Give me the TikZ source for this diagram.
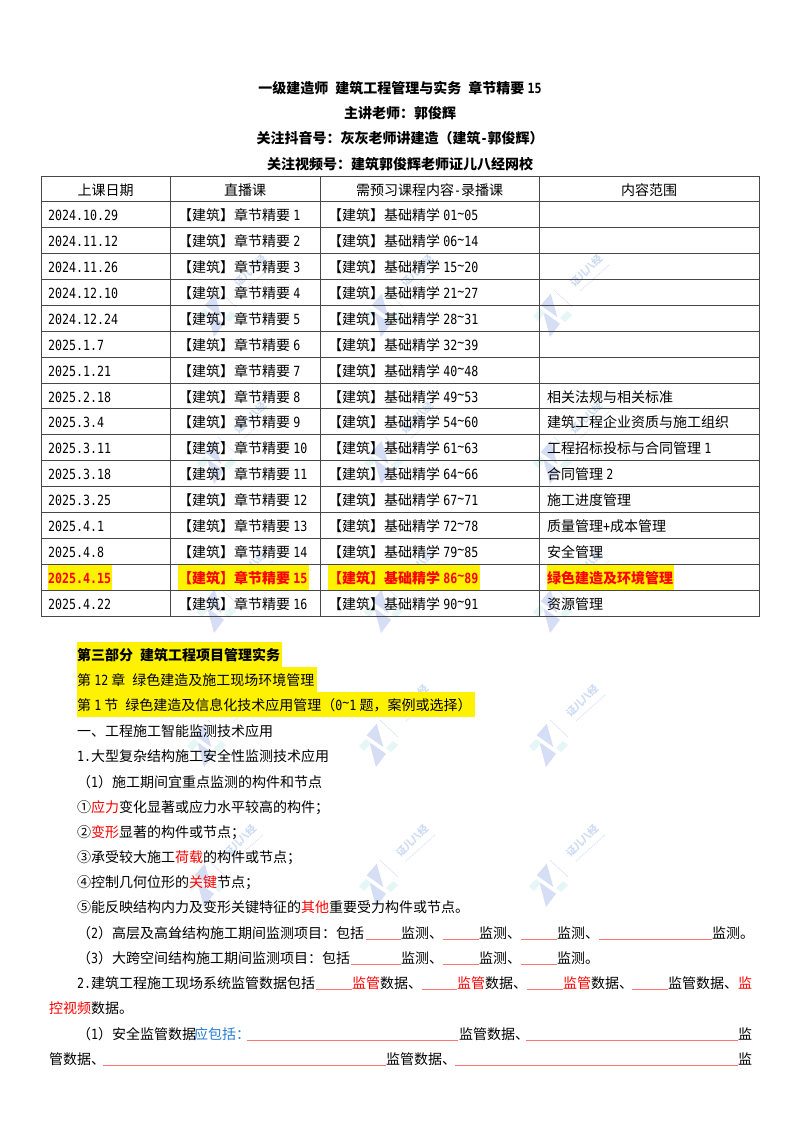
\documentclass[tikz,border=0pt]{standalone}
\usepackage{fontspec}
\setmainfont{Noto Sans CJK SC}
\newfontfamily\latfont[FakeStretch=0.83,Scale=1.0]{DejaVu Sans Mono}
\newcommand{\lat}[1]{{\latfont #1}}
\newcommand{\tld}{\raisebox{2.5pt}{\textasciitilde}}
\newcommand{\bodyfont}{\fontsize{14pt}{16pt}\selectfont}
\definecolor{hotred}{RGB}{255,0,0}
\definecolor{askblue}{RGB}{40,125,210}
\definecolor{markblue}{RGB}{214,222,246}
\definecolor{markcyan}{RGB}{228,246,245}
\definecolor{marktext}{RGB}{205,220,243}
\tikzset{
  mark logo/.pic={
    \fill[markblue] (-0.3,-21.3) -- (-10.3,-9.7) -- (6.3,2) -- cycle;
    \fill[markblue] (-7.7,-3) -- (9,8.7) -- (-1,22) -- cycle;
    \fill[markcyan] (-18,1) -- (-11,-6) -- (-6,-2) -- (-13,6) -- cycle;
    \fill[markcyan] (9,3) -- (16,-4) -- (21,0) -- (14,7) -- cycle;
    \draw[marktext, line width=0.4pt] (3,-25) -- (21,-8);
    \node[marktext, rotate=45, inner sep=0, anchor=center, font=\fontsize{10pt}{10pt}\selectfont\bfseries] at (35,-44) {证儿八经};
    \draw[marktext!70, line width=1.2pt, dash pattern=on 1pt off 1pt] (29,-24) -- (58,-50);
  },
  table rule/.style={draw=black!72, line width=0.9pt},
  blank rule/.style={draw=hotred!55, line width=1pt},
  mark band/.style={fill=yellow},
  hot cell/.style={text=hotred, font=\bodyfont\bfseries}
}
\begin{document}
\begin{tikzpicture}[x=1pt, y=-1pt, font=\bodyfont]
  \useasboundingbox[fill=white] (0,0) rectangle (800,1132);

  % watermark
  \pic at (215,315) {mark logo};
  \pic at (382,315) {mark logo};
  \pic at (551,315) {mark logo};
  \pic at (215,462) {mark logo};
  \pic at (382,462) {mark logo};
  \pic at (551,462) {mark logo};
  \pic at (215,611) {mark logo};
  \pic at (382,611) {mark logo};
  \pic at (551,611) {mark logo};
  \pic at (205,745) {mark logo};
  \pic at (377,745) {mark logo};
  \pic at (547,745) {mark logo};
  \pic at (205,885) {mark logo};
  \pic at (377,885) {mark logo};
  \pic at (547,885) {mark logo};

  % highlights
  \fill[mark band] (48,565) rectangle (112,590);
  \fill[mark band] (178,565) rectangle (309,590);
  \fill[mark band] (328,565) rectangle (480,590);
  \fill[mark band] (547,565) rectangle (674,590);
  \fill[mark band] (77,642) rectangle (282,667);
  \fill[mark band] (77,667) rectangle (317,692);
  \fill[mark band] (77,692) rectangle (475,717);

  % table
  \begin{scope}[table rule]
    \draw (41,176) rectangle (759,616);
    \draw (170,176) -- (170,616);
    \draw (320,176) -- (320,616);
    \draw (539,176) -- (539,616);
    \draw (41,201.9) -- (759,201.9);
    \draw (41,227.8) -- (759,227.8);
    \draw (41,253.6) -- (759,253.6);
    \draw (41,279.5) -- (759,279.5);
    \draw (41,305.4) -- (759,305.4);
    \draw (41,331.3) -- (759,331.3);
    \draw (41,357.2) -- (759,357.2);
    \draw (41,383.1) -- (759,383.1);
    \draw (41,408.9) -- (759,408.9);
    \draw (41,434.8) -- (759,434.8);
    \draw (41,460.7) -- (759,460.7);
    \draw (41,486.6) -- (759,486.6);
    \draw (41,512.5) -- (759,512.5);
    \draw (41,538.4) -- (759,538.4);
    \draw (41,564.2) -- (759,564.2);
    \draw (41,590.1) -- (759,590.1);
  \end{scope}

  % title and table head
  \begin{scope}[every node/.style={inner sep=0, anchor=base}]
    \node[font=\bodyfont\bfseries] (title) at (400,93) {一级建造师\hspace{7pt}建筑工程管理与实务\hspace{7pt}章节精要 \lat{15}};
    \node[font=\bodyfont\bfseries] (teacher) at (400,118) {主讲老师：郭俊辉};
    \node[font=\bodyfont\bfseries] (douyin) at (400,143) {关注抖音号：灰灰老师讲建造（建筑\lat{-}郭俊辉）};
    \node[font=\bodyfont\bfseries] (video) at (400,169) {关注视频号：建筑郭俊辉老师证儿八经网校};
    \node (headdate) at (105.5,195) {上课日期};
    \node (headlive) at (245,195) {直播课};
    \node (headrec) at (429.5,195) {需预习课程内容\lat{-}录播课};
    \node (headscope) at (649,195) {内容范围};
  \end{scope}

  % table body
  \begin{scope}[yshift=-1pt, every node/.style={inner sep=0, anchor=base west}]
    \node (date1) at (48,219.8) {\lat{2024.10.29}};
    \node (live1) at (178,219.8) {【建筑】章节精要 \lat{1}};
    \node (rec1) at (328,219.8) {【建筑】基础精学 \lat{01\tld 05}};
    \node (date2) at (48,245.7) {\lat{2024.11.12}};
    \node (live2) at (178,245.7) {【建筑】章节精要 \lat{2}};
    \node (rec2) at (328,245.7) {【建筑】基础精学 \lat{06\tld 14}};
    \node (date3) at (48,271.6) {\lat{2024.11.26}};
    \node (live3) at (178,271.6) {【建筑】章节精要 \lat{3}};
    \node (rec3) at (328,271.6) {【建筑】基础精学 \lat{15\tld 20}};
    \node (date4) at (48,297.5) {\lat{2024.12.10}};
    \node (live4) at (178,297.5) {【建筑】章节精要 \lat{4}};
    \node (rec4) at (328,297.5) {【建筑】基础精学 \lat{21\tld 27}};
    \node (date5) at (48,323.3) {\lat{2024.12.24}};
    \node (live5) at (178,323.3) {【建筑】章节精要 \lat{5}};
    \node (rec5) at (328,323.3) {【建筑】基础精学 \lat{28\tld 31}};
    \node (date6) at (48,349.2) {\lat{2025.1.7}};
    \node (live6) at (178,349.2) {【建筑】章节精要 \lat{6}};
    \node (rec6) at (328,349.2) {【建筑】基础精学 \lat{32\tld 39}};
    \node (date7) at (48,375.1) {\lat{2025.1.21}};
    \node (live7) at (178,375.1) {【建筑】章节精要 \lat{7}};
    \node (rec7) at (328,375.1) {【建筑】基础精学 \lat{40\tld 48}};
    \node (date8) at (48,401) {\lat{2025.2.18}};
    \node (live8) at (178,401) {【建筑】章节精要 \lat{8}};
    \node (rec8) at (328,401) {【建筑】基础精学 \lat{49\tld 53}};
    \node (range8) at (547,401) {相关法规与相关标准};
    \node (date9) at (48,426.9) {\lat{2025.3.4}};
    \node (live9) at (178,426.9) {【建筑】章节精要 \lat{9}};
    \node (rec9) at (328,426.9) {【建筑】基础精学 \lat{54\tld 60}};
    \node (range9) at (547,426.9) {建筑工程企业资质与施工组织};
    \node (date10) at (48,452.8) {\lat{2025.3.11}};
    \node (live10) at (178,452.8) {【建筑】章节精要 \lat{10}};
    \node (rec10) at (328,452.8) {【建筑】基础精学 \lat{61\tld 63}};
    \node (range10) at (547,452.8) {工程招标投标与合同管理 \lat{1}};
    \node (date11) at (48,478.7) {\lat{2025.3.18}};
    \node (live11) at (178,478.7) {【建筑】章节精要 \lat{11}};
    \node (rec11) at (328,478.7) {【建筑】基础精学 \lat{64\tld 66}};
    \node (range11) at (547,478.7) {合同管理 \lat{2}};
    \node (date12) at (48,504.6) {\lat{2025.3.25}};
    \node (live12) at (178,504.6) {【建筑】章节精要 \lat{12}};
    \node (rec12) at (328,504.6) {【建筑】基础精学 \lat{67\tld 71}};
    \node (range12) at (547,504.6) {施工进度管理};
    \node (date13) at (48,530.4) {\lat{2025.4.1}};
    \node (live13) at (178,530.4) {【建筑】章节精要 \lat{13}};
    \node (rec13) at (328,530.4) {【建筑】基础精学 \lat{72\tld 78}};
    \node (range13) at (547,530.4) {质量管理\lat{+}成本管理};
    \node (date14) at (48,556.3) {\lat{2025.4.8}};
    \node (live14) at (178,556.3) {【建筑】章节精要 \lat{14}};
    \node (rec14) at (328,556.3) {【建筑】基础精学 \lat{79\tld 85}};
    \node (range14) at (547,556.3) {安全管理};
    \node[hot cell] (date15) at (48,582.2) {\lat{2025.4.15}};
    \node[hot cell] (live15) at (178,582.2) {【建筑】章节精要 \lat{15}};
    \node[hot cell] (rec15) at (328,582.2) {【建筑】基础精学 \lat{86\tld 89}};
    \node[hot cell] (range15) at (547,582.2) {绿色建造及环境管理};
    \node (date16) at (48,608.1) {\lat{2025.4.22}};
    \node (live16) at (178,608.1) {【建筑】章节精要 \lat{16}};
    \node (rec16) at (328,608.1) {【建筑】基础精学 \lat{90\tld 91}};
    \node (range16) at (547,608.1) {资源管理};
  \end{scope}

  % text below the table
  \begin{scope}[every node/.style={inner sep=0, anchor=base west}]
    \node[font=\bodyfont\bfseries] (part) at (77,660) {第三部分\hspace{7pt}建筑工程项目管理实务};
    \node (chapter) at (77,685) {第 \lat{12} 章\hspace{7pt}绿色建造及施工现场环境管理};
    \node (section) at (77,710) {第 \lat{1} 节\hspace{7pt}绿色建造及信息化技术应用管理（\lat{0\tld 1} 题，案例或选择）};
    \node (topic) at (77,736) {一、工程施工智能监测技术应用};
    \node (item1) at (77,761) {\lat{1.}大型复杂结构施工安全性监测技术应用};
    \node (sub1) at (77,787) {（\lat{1}）施工期间宜重点监测的构件和节点};
    \node (c1) at (77,812) {①\textcolor{hotred}{应力}变化显著或应力水平较高的构件；};
    \node (c2) at (77,837) {②\textcolor{hotred}{变形}显著的构件或节点；};
    \node (c3) at (77,862) {③承受较大施工\textcolor{hotred}{荷载}的构件或节点；};
    \node (c4) at (77,887) {④控制几何位形的\textcolor{hotred}{关键}节点；};
    \node (c5) at (77,912) {⑤能反映结构内力及变形关键特征的\textcolor{hotred}{其他}重要受力构件或节点。};

    \node (sub2) at (77,938) {（\lat{2}）高层及高耸结构施工期间监测项目：包括};
    \node (sub2a) at (401,938) {监测、};
    \node (sub2b) at (479,938) {监测、};
    \node (sub2c) at (557,938) {监测、};
    \node (sub2d) at (712,938) {监测。};
    \draw[blank rule] (366,939) -- (401,939);
    \draw[blank rule] (443,939) -- (479,939);
    \draw[blank rule] (521,939) -- (557,939);
    \draw[blank rule] (599,939) -- (712,939);

    \node (sub3) at (77,963) {（\lat{3}）大跨空间结构施工期间监测项目：包括};
    \node (sub3a) at (401,963) {监测、};
    \node (sub3b) at (479,963) {监测、};
    \node (sub3c) at (557,963) {监测。};
    \draw[blank rule] (351,964) -- (401,964);
    \draw[blank rule] (443,964) -- (479,964);
    \draw[blank rule] (521,964) -- (557,964);

    \node (item2) at (77,988) {\lat{2.}建筑工程施工现场系统监管数据包括};
    \node (item2a) at (352,988) {\textcolor{hotred}{监管}数据、};
    \node (item2b) at (457,988) {\textcolor{hotred}{监管}数据、};
    \node (item2c) at (563,988) {\textcolor{hotred}{监管}数据、};
    \node (item2d) at (668,988) {监管数据、\textcolor{hotred}{监}};
    \node (item2e) at (49,1013) {\textcolor{hotred}{控视频}数据。};
    \draw[blank rule] (316,989) -- (352,989);
    \draw[blank rule] (422,989) -- (457,989);
    \draw[blank rule] (527,989) -- (563,989);
    \draw[blank rule] (632,989) -- (668,989);

    \node (safe) at (77,1039) {（\lat{1}）安全监管数据};
    \node[text=askblue] (safeask) at (194,1039) {应包括：};
    \node (safea) at (459,1039) {监管数据、};
    \node (safeb) at (738,1039) {监};
    \node (safec) at (49,1064) {管数据、};
    \node (safed) at (386,1064) {监管数据、};
    \node (safee) at (738,1064) {监};
    \draw[blank rule] (247,1040) -- (458,1040);
    \draw[blank rule] (526,1040) -- (738,1040);
    \draw[blank rule] (103,1065) -- (386,1065);
    \draw[blank rule] (455,1065) -- (738,1065);
  \end{scope}
\end{tikzpicture}
\end{document}
